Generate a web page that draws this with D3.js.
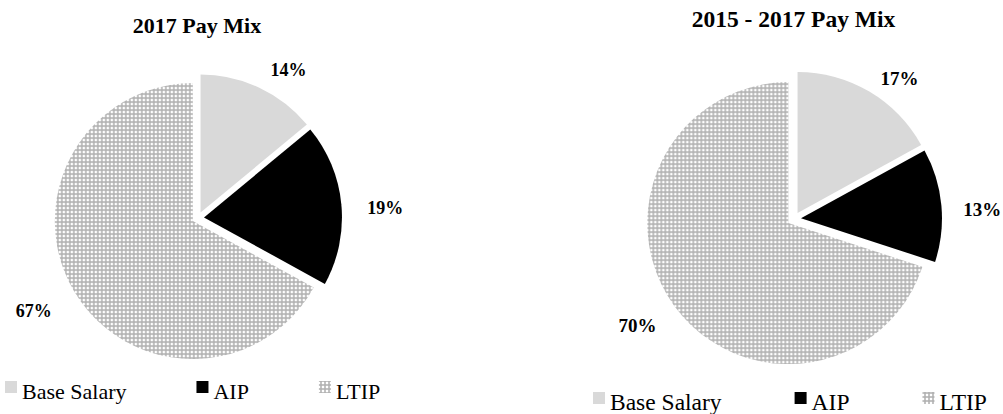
<!DOCTYPE html>
<html>
<head>
<meta charset="utf-8">
<script src="https://cdn.jsdelivr.net/npm/d3@7"></script>
<style>
  html, body { margin: 0; padding: 0; background: #fff; }
  svg { display: block; }
  .serif { font-family: "Liberation Serif", "Times New Roman", Tinos, "DejaVu Serif", serif; }
</style>
</head>
<body>
<svg id="chart" width="1003" height="414"></svg>
<script>
// ---- data ----
const categories = ["Base Salary", "AIP", "LTIP"];
const titles = ["2017 Pay Mix", "2015 - 2017 Pay Mix"];
const values2017 = [14, 19, 67];
const values2015to2017 = [17, 13, 70];
const seriesList = [values2017, values2015to2017];

// ---- layout (per chart) ----
const layouts = [
  { cx: 198, cy: 218, r: 138, explode: 6, titleX: 197, titleY: 33, titleSize: 22,
    labelSize: 18, labelPad: 26, legendX: 5, legendY: 399, legendSize: 22, sq: 12, legendGap: 70 },
  { cx: 794, cy: 219, r: 141, explode: 7, titleX: 793.5, titleY: 27, titleSize: 23.5,
    labelSize: 19, labelPad: 22, legendX: 593, legendY: 410, legendSize: 23.5, sq: 12, legendGap: 73 }
];

const svg = d3.select("#chart");
const defs = svg.append("defs");
const pat = defs.append("pattern").attr("id", "ltip").attr("patternUnits", "userSpaceOnUse")
  .attr("width", 4).attr("height", 4);
pat.append("rect").attr("width", 4).attr("height", 4).attr("fill", "#c2c2c2");
pat.append("rect").attr("x", 2).attr("y", 2).attr("width", 2).attr("height", 2).attr("fill", "#ffffff");
pat.append("rect").attr("x", 0).attr("y", 0).attr("width", 2).attr("height", 2).attr("fill", "#b4b4b4");

const color = d3.scaleOrdinal().domain(categories).range(["#d9d9d9", "#000000", "url(#ltip)"]);

seriesList.forEach((vals, i) => {
  const L = layouts[i];
  const data = categories.map((c, k) => ({ cat: c, value: vals[k] }));
  const pie = d3.pie().value(d => d.value).sort(null);
  const arcs = pie(data);
  const arc = d3.arc().innerRadius(0).outerRadius(L.r);

  const g = svg.append("g").attr("transform", `translate(${L.cx},${L.cy})`);

  // title
  svg.append("text").attr("class", "serif").attr("x", L.titleX).attr("y", L.titleY)
    .attr("text-anchor", "middle").attr("font-weight", "bold")
    .attr("font-size", L.titleSize).attr("fill", "#000").text(titles[i]);

  // slices (exploded)
  g.selectAll("path").data(arcs).join("path")
    .attr("d", arc)
    .attr("fill", d => color(d.data.cat))
    .attr("transform", d => {
      const a = (d.startAngle + d.endAngle) / 2;
      return `translate(${Math.sin(a) * L.explode},${-Math.cos(a) * L.explode})`;
    });

  // labels
  g.selectAll("text.lbl").data(arcs).join("text").attr("class", "lbl serif")
    .each(function (d) {
      const a = (d.startAngle + d.endAngle) / 2;
      const rr = L.r + L.explode + L.labelPad;
      const x = Math.sin(a) * rr, y = -Math.cos(a) * rr;
      d3.select(this).attr("x", x).attr("y", y + 6)
        .attr("dy", "0.35em")
        .attr("text-anchor", Math.sin(a) >= 0 ? "start" : "end");
    })
    .attr("font-weight", "bold").attr("font-size", L.labelSize)
    .attr("fill", "#000")
    .text(d => d.data.value + "%");

  // legend
  let x = L.legendX;
  categories.forEach((c) => {
    svg.append("rect").attr("x", x).attr("y", L.legendY - 18).attr("width", L.sq).attr("height", L.sq)
      .attr("fill", color(c));
    const t = svg.append("text").attr("class", "serif").attr("x", x + L.sq + 5).attr("y", L.legendY)
      .attr("font-size", L.legendSize).attr("fill", "#000").text(c);
    const w = t.node().getComputedTextLength();
    x = x + L.sq + 5 + w + L.legendGap;
  });
});
</script>
</body>
</html>
